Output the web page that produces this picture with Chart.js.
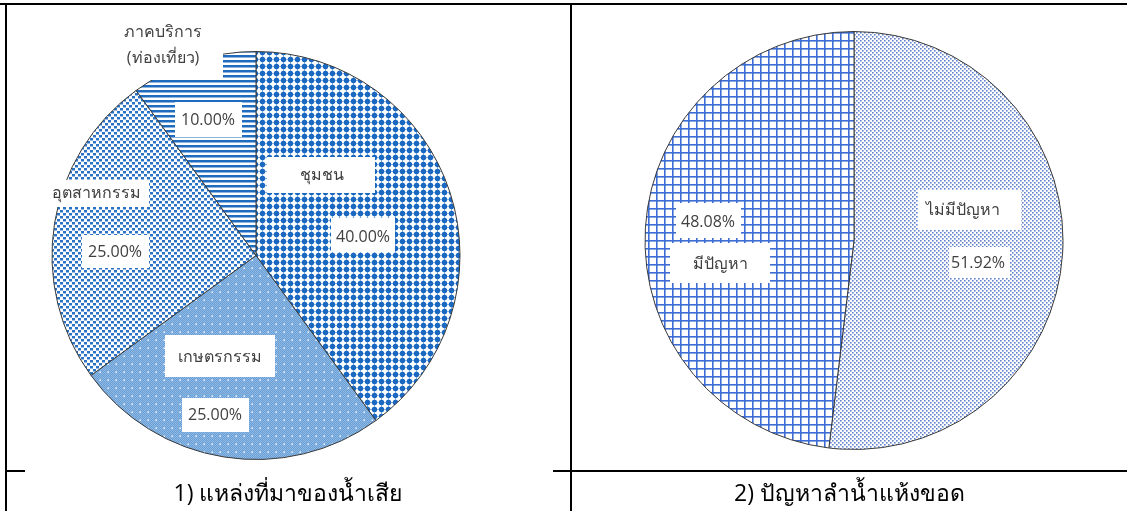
<!DOCTYPE html>
<html>
<head>
<meta charset="utf-8">
<script src="https://cdn.jsdelivr.net/npm/chart.js@4.4.1/dist/chart.umd.min.js"></script>
<style>
  html, body { margin:0; padding:0; background:#fff; }
  #wrap { position:relative; width:1127px; height:511px; overflow:hidden; background:#fff; }
  canvas { position:absolute; left:0; top:0; }
  .ln { position:absolute; background:#000; }
  .title { position:absolute; top:474px; height:37px; line-height:37px; text-align:center; font-family:'Open Sans','Noto Sans',sans-serif; font-size:23px; color:#000; }
</style>
</head>
<body>
<div id="wrap">
  <canvas id="c1" width="1127" height="511"></canvas>
  <canvas id="c2" width="1127" height="511"></canvas>
  <div class="ln" style="left:0;top:3px;width:1127px;height:2px;"></div>
  <div class="ln" style="left:5px;top:3px;width:2px;height:508px;"></div>
  <div class="ln" style="left:570px;top:3px;width:2px;height:508px;"></div>
  <div class="ln" style="left:5px;top:470px;width:20px;height:2px;"></div>
  <div class="ln" style="left:553px;top:470px;width:574px;height:2px;"></div>
  <div class="title" id="t1" style="left:6px;width:564px;"></div>
  <div class="title" id="t2" style="left:572px;width:555px;"></div>
</div>
<script>
// ---- data ----
const TITLE_1 = '1) แหล่งที่มาของน้ำเสีย';
const TITLE_2 = '2) ปัญหาลำน้ำแห้งขอด';
const SOURCE_LABELS = ['ชุมชน', 'เกษตรกรรม', 'อุตสาหกรรม', 'ภาคบริการ (ท่องเที่ยว)'];
const SOURCE_VALUES = [40.00, 25.00, 25.00, 10.00];
const DRY_LABELS = ['ไม่มีปัญหา', 'มีปัญหา'];
const DRY_VALUES = [51.92, 48.08];

// ---- label layout (relative to pie centre): [kind, index, textX, textY, boxL, boxT, boxR, boxB] ----
const LAYOUT_1 = [
  ['name', 0, 66, -80.5, 11, -98.5, 119, -62.5],
  ['pct', 0, 107, -18.5, 75, -37.5, 139, -3.5],
  ['name', 1, -36, 101.5, -91, 79.5, 19, 121.5],
  ['pct', 1, -41, 159.5, -74, 142.5, -7, 176.5],
  ['name', 2, -160, -62.5, -216, -75.5, -107, -48.5],
  ['pct', 2, -141, -3.5, -174, -20.5, -107, 12.5],
  ['pct', 3, -48, -135.5, -81, -153.5, -14, -118.5],
  ['name', 3, -93, -223.5, -156, -252, -33, -175.5]
];
const LAYOUT_2 = [
  ['name', 0, 109, -30.5, 64, -50.5, 167, -10.5],
  ['pct', 0, 124, 22.5, 95, 6.5, 156, 37.5],
  ['pct', 1, -146, -18.5, -178, -37.5, -113, -2.5],
  ['name', 1, -134, 23.5, -184, 2.5, -84, 42.5]
];

document.getElementById('t1').textContent = TITLE_1;
document.getElementById('t2').textContent = TITLE_2;

function makePattern(w, h, draw) {
  const c = document.createElement('canvas');
  c.width = w; c.height = h;
  const x = c.getContext('2d');
  draw(x);
  return x.createPattern(c, 'repeat');
}

const pChumchon = makePattern(7, 7, x => {
  x.fillStyle = '#fff'; x.fillRect(0, 0, 7, 7);
  x.fillStyle = '#1a68c0';
  x.beginPath(); x.arc(3.5, 3.5, 2.7, 0, Math.PI * 2); x.fill();
  x.beginPath(); x.moveTo(3.5, 0.3); x.lineTo(6.7, 3.5); x.lineTo(3.5, 6.7); x.lineTo(0.3, 3.5); x.closePath(); x.fill();
});
const pKaset = makePattern(8, 8, x => {
  x.fillStyle = '#6a9fd6'; x.fillRect(0, 0, 8, 8);
  x.fillStyle = '#8fb9e5';
  for (let i = 0; i < 8; i++) for (let j = 0; j < 8; j++) if ((i + j) % 2 === 0) x.fillRect(i, j, 1, 1);
  x.fillStyle = '#f4f8fd'; x.fillRect(3.5, 3.5, 1.5, 1.5);
});
const pUtsa = makePattern(6, 6, x => {
  x.fillStyle = '#fff'; x.fillRect(0, 0, 6, 6);
  x.fillStyle = '#2a72c5';
  x.fillRect(0, 0, 3, 2.5); x.fillRect(3, 3, 3, 2.5);
});
const pBorikan = makePattern(5, 5, x => {
  x.fillStyle = '#fff'; x.fillRect(0, 0, 5, 5);
  x.fillStyle = '#1f6cbf'; x.fillRect(0, 0, 5, 2.5);
});
const pMee = makePattern(8, 8, x => {
  x.fillStyle = '#fff'; x.fillRect(0, 0, 8, 8);
  x.fillStyle = '#3d6dd4'; x.fillRect(0, 0, 8, 1.6); x.fillRect(0, 0, 1.6, 8);
});
const pMaiMee = makePattern(4, 4, x => {
  x.fillStyle = '#fff'; x.fillRect(0, 0, 4, 4);
  x.fillStyle = '#6483cd'; x.fillRect(0, 0, 1.6, 1.6); x.fillRect(2, 2, 1.6, 1.6);
});

const FONT = "'Open Sans','Noto Sans',sans-serif";

const labelPlugin = {
  id: 'boxLabels',
  afterDatasetsDraw(chart, args, opts) {
    const ctx = chart.ctx;
    const meta = chart.getDatasetMeta(0);
    const cx = meta.data[0].x, cy = meta.data[0].y;
    const labels = chart.data.labels;
    const values = chart.data.datasets[0].data;
    ctx.save();
    opts.layout.forEach(([kind, idx, tx, ty, bl, bt, br, bb]) => {
      ctx.fillStyle = '#ffffff';
      ctx.fillRect(cx + bl, cy + bt, br - bl, bb - bt);
      ctx.fillStyle = '#404040';
      ctx.font = '16px ' + FONT;
      ctx.textAlign = 'center';
      ctx.textBaseline = 'middle';
      if (kind === 'pct') {
        ctx.fillText(values[idx].toFixed(2) + '%', cx + tx, cy + ty);
      } else {
        const lines = String(labels[idx]).split(' ');
        lines.forEach((l, k) => ctx.fillText(l, cx + tx, cy + ty + k * 26));
      }
    });
    ctx.restore();
  }
};

function pieOptions(radius, padding, layout) {
  return {
    responsive: false,
    animation: false,
    events: [],
    radius: radius,
    layout: { padding: padding },
    plugins: { legend: { display: false }, tooltip: { enabled: false }, boxLabels: { layout: layout } }
  };
}

new Chart(document.getElementById('c1'), {
  type: 'pie',
  data: {
    labels: SOURCE_LABELS,
    datasets: [{
      data: SOURCE_VALUES,
      backgroundColor: [pChumchon, pKaset, pUtsa, pBorikan],
      borderColor: '#3a3a3a',
      borderWidth: 1,
      radius: 204
    }]
  },
  options: pieOptions(204, { left: 0, right: 615, top: 0, bottom: 0 }, LAYOUT_1),
  plugins: [labelPlugin]
});

new Chart(document.getElementById('c2'), {
  type: 'pie',
  data: {
    labels: DRY_LABELS,
    datasets: [{
      data: DRY_VALUES,
      backgroundColor: [pMaiMee, pMee],
      borderColor: '#3a3a3a',
      borderWidth: 1,
      radius: 209
    }]
  },
  options: pieOptions(209, { left: 581, right: 0, top: 0, bottom: 30 }, LAYOUT_2),
  plugins: [labelPlugin]
});
</script>
</body>
</html>
